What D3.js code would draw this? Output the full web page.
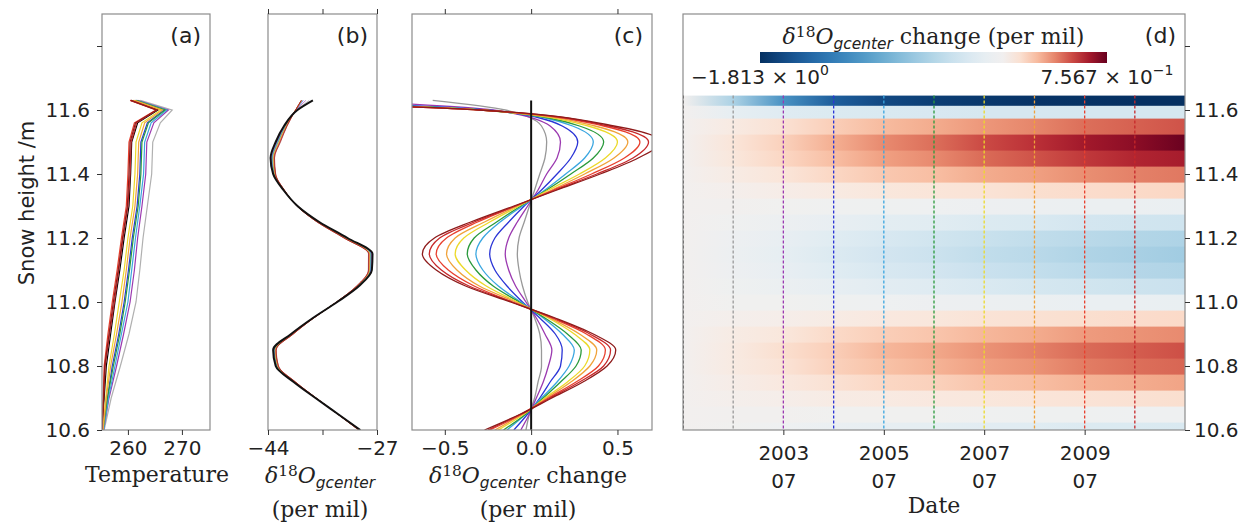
<!DOCTYPE html>
<html>
<head>
<meta charset="utf-8">
<script src="https://cdn.jsdelivr.net/npm/d3@7"></script>
<style>
  body { margin: 0; background: #fff; }
  .tick text { font-family: "DejaVu Sans"; font-size: 20px; fill: #222; }
  .tick line { stroke: #333; stroke-width: 1; }
  .lab { font-family: "DejaVu Serif"; font-size: 22px; fill: #222; }
  .plab { font-family: "DejaVu Sans"; font-size: 22px; fill: #222; }
</style>
</head>
<body>
<div id="chart"></div>
<script>
// ---- data ----
// heights (m) used by the isotope profiles / change curves / heatmap rows
var heights = [10.60, 10.65, 10.70, 10.75, 10.80, 10.85, 10.90, 10.95, 11.00, 11.05, 11.10,
               11.15, 11.20, 11.25, 11.30, 11.35, 11.40, 11.45, 11.50, 11.55, 11.60, 11.63];
// heights used by the temperature profiles
var heightsT = [10.60, 10.70, 10.80, 10.90, 11.00, 11.10, 11.20, 11.30, 11.40, 11.50, 11.56, 11.60, 11.63];

var curveDates = ["2001-07", "2002-07", "2003-07", "2004-07", "2005-07", "2006-07",
                  "2007-07", "2008-07", "2009-07", "2010-07", "2011-07"];
var curveColors = ["#000000", "#999999", "#9b39b0", "#2b35d6", "#3aa6e0", "#2a9a3c",
                   "#ecd92a", "#f0a23a", "#e8402e", "#c7282a", "#8e1b1b"];
var dashedDates = ["2001-07", "2002-07", "2003-07", "2004-07", "2005-07",
                   "2006-07", "2007-07", "2008-07", "2009-07", "2010-07"];
var dateTicks = ["2003-07", "2005-07", "2007-07", "2009-07"];

// temperature profiles (K)
var tempBlack     = [255.2, 255.6, 256.0, 256.8, 257.6, 258.5, 259.3, 260.2, 260.5, 260.7, 261.8, 265.6, 260.6];
var tempGray      = [255.6, 256.9, 258.6, 260.2, 261.5, 262.2, 262.8, 263.6, 264.4, 264.6, 266.0, 268.2, 262.3];
var tempPurple    = [255.5, 256.5, 257.9, 259.2, 260.4, 261.2, 261.8, 262.6, 263.3, 263.5, 264.8, 267.5, 261.8];
var tempBlue      = [255.4, 256.2, 257.1, 258.3, 259.3, 260.1, 260.8, 261.7, 262.2, 262.4, 263.6, 266.7, 261.4];
var tempLightBlue = [255.5, 256.4, 257.6, 258.8, 260.0, 260.7, 261.4, 262.2, 262.9, 263.1, 264.3, 267.2, 261.6];
var tempGreen     = [255.4, 256.2, 257.3, 258.5, 259.5, 260.3, 261.0, 261.9, 262.4, 262.6, 263.8, 266.9, 261.5];
var tempYellow    = [255.3, 255.9, 256.5, 257.5, 258.4, 259.3, 260.0, 260.9, 261.3, 261.5, 262.6, 266.1, 261.0];
var tempOrange    = [255.4, 256.0, 256.8, 257.9, 258.9, 259.7, 260.4, 261.3, 261.8, 262.0, 263.1, 266.4, 261.2];
var tempRed       = [255.2, 255.4, 255.6, 256.3, 257.1, 258.0, 258.8, 259.7, 260.0, 260.2, 261.2, 265.2, 260.4];
var tempFirebrick = [255.2, 255.5, 255.8, 256.6, 257.5, 258.3, 259.1, 260.0, 260.4, 260.6, 261.6, 265.4, 260.6];
var tempDarkRed   = [255.2, 255.5, 255.7, 256.5, 257.3, 258.2, 259.0, 259.9, 260.2, 260.4, 261.4, 265.3, 260.5];

// initial d18O profile (per mil)
var d18Base = [-29.6, -33.1, -36.6, -40.0, -42.8, -43.2, -40.4, -37.0, -33.2, -29.8, -27.8,
               -27.7, -31.6, -36.0, -39.4, -41.6, -43.2, -43.6, -42.8, -41.5, -39.4, -37.0];

// d18O change relative to the first profile (per mil)
var changeBlack     = [0, 0, 0, 0, 0, 0, 0, 0, 0, 0, 0, 0, 0, 0, 0, 0, 0, 0, 0, 0, 0, 0];
var changeGray      = [-0.03, -0.01, 0.02, 0.04, 0.06, 0.06, 0.05, 0.02, -0.02, -0.05, -0.07, -0.08, -0.07, -0.04, -0.01, 0.02, 0.05, 0.08, 0.09, 0.06, -0.15, -0.57];
var changePurple    = [-0.06, -0.01, 0.03, 0.07, 0.10, 0.12, 0.08, 0.03, -0.03, -0.09, -0.13, -0.15, -0.13, -0.08, -0.02, 0.04, 0.09, 0.15, 0.17, 0.11, -0.22, -1.10];
var changeBlue      = [-0.10, -0.02, 0.05, 0.11, 0.17, 0.18, 0.14, 0.05, -0.05, -0.14, -0.21, -0.24, -0.21, -0.13, -0.04, 0.06, 0.15, 0.23, 0.27, 0.18, -0.25, -1.50];
var changeLightBlue = [-0.14, -0.03, 0.06, 0.15, 0.22, 0.25, 0.18, 0.07, -0.06, -0.19, -0.28, -0.32, -0.28, -0.18, -0.05, 0.08, 0.20, 0.31, 0.36, 0.24, -0.27, -1.65];
var changeGreen     = [-0.16, -0.03, 0.07, 0.17, 0.26, 0.29, 0.21, 0.08, -0.07, -0.22, -0.32, -0.37, -0.33, -0.20, -0.06, 0.09, 0.23, 0.36, 0.42, 0.28, -0.28, -1.72];
var changeYellow    = [-0.19, -0.04, 0.08, 0.21, 0.31, 0.34, 0.25, 0.10, -0.08, -0.26, -0.38, -0.44, -0.39, -0.24, -0.07, 0.10, 0.28, 0.43, 0.50, 0.33, -0.29, -1.76];
var changeOrange    = [-0.21, -0.05, 0.09, 0.23, 0.34, 0.38, 0.28, 0.11, -0.09, -0.30, -0.43, -0.49, -0.44, -0.27, -0.08, 0.12, 0.31, 0.48, 0.56, 0.37, -0.29, -1.79];
var changeRed       = [-0.24, -0.05, 0.10, 0.26, 0.39, 0.43, 0.32, 0.12, -0.11, -0.33, -0.48, -0.55, -0.49, -0.31, -0.09, 0.13, 0.35, 0.54, 0.63, 0.42, -0.30, -1.80];
var changeFirebrick = [-0.25, -0.06, 0.11, 0.28, 0.42, 0.46, 0.34, 0.13, -0.11, -0.36, -0.52, -0.59, -0.53, -0.33, -0.09, 0.14, 0.38, 0.59, 0.68, 0.45, -0.30, -1.81];
var changeDarkRed   = [-0.27, -0.06, 0.12, 0.30, 0.44, 0.49, 0.36, 0.14, -0.12, -0.38, -0.55, -0.63, -0.56, -0.35, -0.10, 0.15, 0.40, 0.62, 0.75, 0.48, -0.30, -1.813];

var tempSeries = [tempBlack, tempGray, tempPurple, tempBlue, tempLightBlue, tempGreen,
                  tempYellow, tempOrange, tempRed, tempFirebrick, tempDarkRed];
var changeSeries = [changeBlack, changeGray, changePurple, changeBlue, changeLightBlue, changeGreen,
                    changeYellow, changeOrange, changeRed, changeFirebrick, changeDarkRed];

var cbMin = -1.813, cbMax = 0.7567;

// ---- layout ----
var svgWidth = 1247, svgHeight = 527;
var plotTop = 14, plotBottom = 430;

var svg = d3.select("#chart").append("svg")
  .attr("width", svgWidth)
  .attr("height", svgHeight);
var defs = svg.append("defs");

var parseDate = d3.timeParse("%Y-%m");

var y = d3.scaleLinear().domain([10.6, 11.9]).range([plotBottom, plotTop]);
var xA = d3.scaleLinear().domain([255.2, 275.2]).range([102, 210]);
var xB = d3.scaleLinear().domain([-44, -27]).range([268, 377]);
var xC = d3.scaleLinear().domain([-0.69, 0.70]).range([412, 652]);
var xD = d3.scaleTime().domain([parseDate("2001-07"), parseDate("2011-07")]).range([683, 1185]);

var color = d3.scaleDiverging()
  .domain([cbMin, 0, cbMax])
  .interpolator(t => d3.interpolateRdBu(1 - t));

// clip paths for each panel
function clip(id, x0, x1) {
  defs.append("clipPath").attr("id", id)
    .append("rect").attr("x", x0).attr("y", plotTop).attr("width", x1 - x0).attr("height", plotBottom - plotTop);
}
clip("clipA", 102, 210);
clip("clipB", 268, 377);
clip("clipC", 412, 652);
clip("clipD", 683, 1185);

function frame(x0, x1) {
  svg.append("rect")
    .attr("x", x0).attr("y", plotTop)
    .attr("width", x1 - x0).attr("height", plotBottom - plotTop)
    .attr("fill", "none").attr("stroke", "#8c8c8c").attr("stroke-width", 1.2);
}

function profile(hs, vals) {
  return hs.map((h, j) => ({ h: h, v: vals[j] }));
}

// math label: delta^18 O_gcenter + suffix
function deltaLabel(t, suffix) {
  t.append("tspan").attr("font-style", "italic").text("δ");
  t.append("tspan").attr("font-size", "0.7em").attr("dy", "-0.45em").text("18");
  t.append("tspan").attr("font-style", "italic").attr("dy", "0.315em").text("O");
  t.append("tspan").attr("font-size", "0.7em").attr("font-style", "italic")
    .attr("font-family", "DejaVu Sans").attr("dy", "0.35em").text("gcenter");
  if (suffix) t.append("tspan").attr("dy", "-0.245em").text(suffix);
}

var yTicks = [10.6, 10.8, 11.0, 11.2, 11.4, 11.6, 11.8];
var yFormat = d => d > 11.7 ? "" : d.toFixed(1);

// ---------- panel (a) temperature ----------
var lineA = d3.line().x(d => xA(d.v)).y(d => y(d.h));
var gA = svg.append("g").attr("clip-path", "url(#clipA)");
tempSeries.forEach(function(vals, i) {
  gA.append("path")
    .datum(profile(heightsT, vals))
    .attr("d", lineA)
    .attr("fill", "none")
    .attr("stroke", i == 1 ? "#b0b0b0" : curveColors[i])
    .attr("stroke-width", 1.2);
});
frame(102, 210);

svg.append("g").attr("transform", "translate(102,0)")
  .call(d3.axisLeft(y).tickValues(yTicks).tickFormat(yFormat).tickSize(5).tickPadding(7))
  .call(g => g.select(".domain").remove());
svg.append("g").attr("transform", `translate(0, ${plotBottom})`)
  .call(d3.axisBottom(xA).tickValues([260, 270]).tickSize(5).tickPadding(6))
  .call(g => g.select(".domain").remove());

svg.append("text").attr("class", "lab")
  .attr("x", 157).attr("y", 482).attr("text-anchor", "middle")
  .text("Temperature");

svg.append("text").attr("class", "plab")
  .attr("transform", "translate(34, 203) rotate(-90)")
  .attr("text-anchor", "middle")
  .style("font-size", "21px")
  .text("Snow height /m");

// ---------- panel (b) d18O profiles ----------
var lineB = d3.line().x(d => xB(d.v)).y(d => y(d.h)).curve(d3.curveMonotoneY);
var gB = svg.append("g").attr("clip-path", "url(#clipB)");
changeSeries.forEach(function(ch, i) {
  if (i == 0) return;
  gB.append("path")
    .datum(heights.map((h, j) => ({ h: h, v: d18Base[j] + ch[j] })))
    .attr("d", lineB)
    .attr("fill", "none")
    .attr("stroke", curveColors[i])
    .attr("stroke-opacity", 0.6)
    .attr("stroke-width", 1);
});
gB.append("path")
  .datum(profile(heights, d18Base))
  .attr("d", lineB)
  .attr("fill", "none")
  .attr("stroke", "#111")
  .attr("stroke-width", 2);
frame(268, 377);

var xBticks = [-44, -35.5, -27];
svg.append("g").attr("transform", `translate(0, ${plotBottom})`)
  .call(d3.axisBottom(xB).tickValues(xBticks).tickFormat(d => d == -35.5 ? "" : d3.format("d")(d).replace("-", "−")).tickSize(5).tickPadding(6))
  .call(g => g.select(".domain").remove());
svg.append("g").attr("transform", `translate(0, ${plotTop})`)
  .call(d3.axisTop(xB).tickValues(xBticks).tickFormat("").tickSize(5))
  .call(g => g.select(".domain").remove());

var tb = svg.append("text").attr("class", "lab").attr("x", 320).attr("y", 483).attr("text-anchor", "middle");
deltaLabel(tb, null);
svg.append("text").attr("class", "lab").attr("x", 320).attr("y", 517).attr("text-anchor", "middle").text("(per mil)");

// ---------- panel (c) d18O change ----------
var lineC = d3.line().x(d => xC(d.v)).y(d => y(d.h)).curve(d3.curveMonotoneY);
var gC = svg.append("g").attr("clip-path", "url(#clipC)");
changeSeries.forEach(function(ch, i) {
  if (i == 0) return;
  gC.append("path")
    .datum(profile(heights, ch))
    .attr("d", lineC)
    .attr("fill", "none")
    .attr("stroke", curveColors[i])
    .attr("stroke-width", 1.3);
});
gC.append("path")
  .datum(profile(heights, changeBlack))
  .attr("d", lineC)
  .attr("fill", "none")
  .attr("stroke", "#111")
  .attr("stroke-width", 2);
frame(412, 652);

var xCticks = [-0.5, 0, 0.5];
svg.append("g").attr("transform", `translate(0, ${plotBottom})`)
  .call(d3.axisBottom(xC).tickValues(xCticks).tickFormat(d => d3.format(".1f")(d).replace("-", "−")).tickSize(5).tickPadding(6))
  .call(g => g.select(".domain").remove());
svg.append("g").attr("transform", `translate(0, ${plotTop})`)
  .call(d3.axisTop(xC).tickValues(xCticks).tickFormat("").tickSize(5))
  .call(g => g.select(".domain").remove());

var tc = svg.append("text").attr("class", "lab").attr("x", 528).attr("y", 483).attr("text-anchor", "middle");
deltaLabel(tc, " change");
svg.append("text").attr("class", "lab").attr("x", 528).attr("y", 517).attr("text-anchor", "middle").text("(per mil)");

// ---------- panel (d) heatmap ----------
var gD = svg.append("g").attr("clip-path", "url(#clipD)");
var gx0 = xD(parseDate(curveDates[0]));
var gx1 = xD(parseDate(curveDates[curveDates.length - 1]));
heights.forEach(function(h, i) {
  var grad = defs.append("linearGradient")
    .attr("id", "row" + i)
    .attr("gradientUnits", "userSpaceOnUse")
    .attr("x1", gx0).attr("x2", gx1).attr("y1", 0).attr("y2", 0);
  changeSeries.forEach(function(ch, k) {
    grad.append("stop")
      .attr("offset", (xD(parseDate(curveDates[k])) - gx0) / (gx1 - gx0))
      .attr("stop-color", color(ch[i]));
  });
  var lo = i == 0 ? h - (heights[1] - heights[0]) / 2 : (heights[i - 1] + h) / 2;
  var hi = i == heights.length - 1 ? h + (h - heights[i - 1]) / 2 : (h + heights[i + 1]) / 2;
  gD.append("rect")
    .attr("x", 683).attr("width", 1185 - 683)
    .attr("y", y(hi)).attr("height", y(lo) - y(hi) + 0.6)
    .attr("fill", "url(#row" + i + ")");
});

var heatTop = y(heights[heights.length - 1] + (heights[heights.length - 1] - heights[heights.length - 2]) / 2);
dashedDates.forEach(function(d, i) {
  gD.append("line")
    .attr("x1", xD(parseDate(d))).attr("x2", xD(parseDate(d)))
    .attr("y1", heatTop).attr("y2", plotBottom)
    .attr("stroke", curveColors[i])
    .attr("stroke-width", 1.3)
    .attr("stroke-dasharray", "3,2");
});
frame(683, 1185);

svg.append("g").attr("transform", "translate(1185,0)")
  .call(d3.axisRight(y).tickValues(yTicks).tickFormat(yFormat).tickSize(5).tickPadding(4))
  .call(g => g.select(".domain").remove());

var dateAxis = svg.append("g").attr("transform", `translate(0, ${plotBottom})`)
  .call(d3.axisBottom(xD).tickValues(dateTicks.map(parseDate)).tickSize(5).tickPadding(11))
  .call(g => g.select(".domain").remove());
dateAxis.selectAll(".tick text").each(function(d) {
  var t = d3.select(this).text(null);
  t.append("tspan").attr("x", 0).text(d3.timeFormat("%Y")(d));
  t.append("tspan").attr("x", 0).attr("dy", "1.4em").text(d3.timeFormat("%m")(d));
});

svg.append("text").attr("class", "lab")
  .attr("x", 934).attr("y", 513).attr("text-anchor", "middle")
  .text("Date");

// colorbar inset
var cbX = d3.scaleLinear().domain([cbMin, cbMax]).range([760, 1107]);
var cbGrad = defs.append("linearGradient").attr("id", "cbar");
d3.range(0, 1.0001, 0.05).forEach(function(t) {
  var v = cbMin + t * (cbMax - cbMin);
  cbGrad.append("stop").attr("offset", t).attr("stop-color", color(v));
});
svg.append("rect")
  .attr("x", cbX(cbMin)).attr("y", 52)
  .attr("width", cbX(cbMax) - cbX(cbMin)).attr("height", 11)
  .attr("fill", "url(#cbar)");

var tt = svg.append("text").attr("class", "lab").attr("x", cbX((cbMin + cbMax) / 2)).attr("y", 44).attr("text-anchor", "middle");
deltaLabel(tt, " change (per mil)");

function sciLabel(x, mant, expo) {
  var t = svg.append("text").attr("class", "plab")
    .attr("x", x).attr("y", 84).attr("text-anchor", "middle")
    .style("font-size", "20px");
  t.append("tspan").text(mant + " × 10");
  t.append("tspan").attr("font-size", "0.7em").attr("dy", "-0.65em").text(expo);
}
sciLabel(cbX(cbMin), "−1.813", "0");
sciLabel(cbX(cbMax), "7.567", "−1");

// panel letters
[["(a)", 210], ["(b)", 377], ["(c)", 652], ["(d)", 1185]].forEach(function(p) {
  svg.append("text").attr("class", "plab")
    .attr("x", p[1] - 9).attr("y", 43).attr("text-anchor", "end")
    .text(p[0]);
});
</script>
</body>
</html>
